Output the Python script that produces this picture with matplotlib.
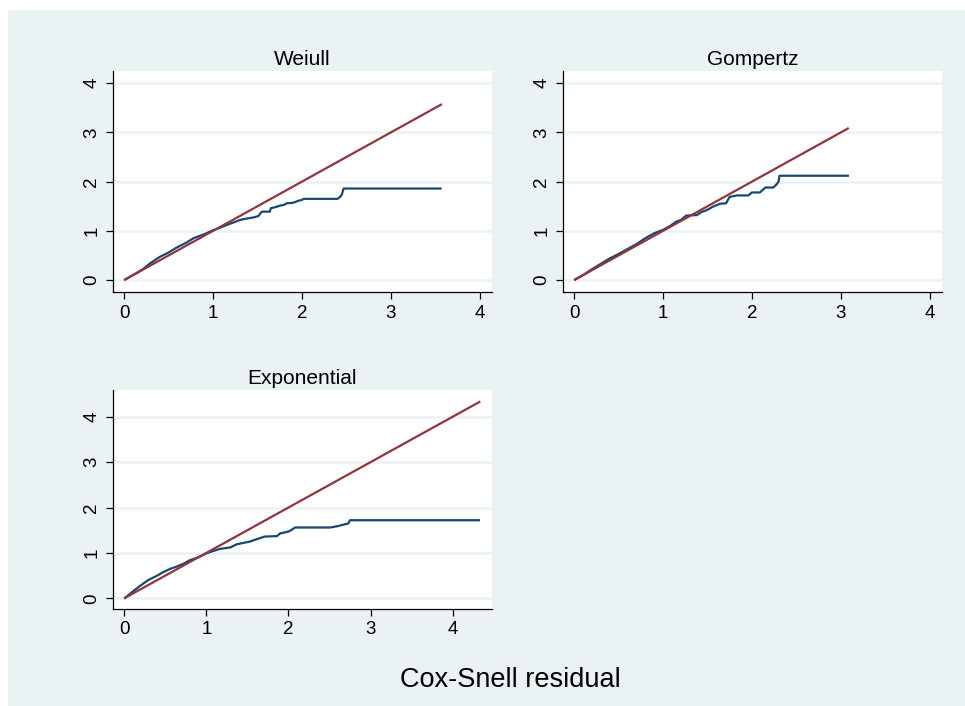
import matplotlib
matplotlib.use("Agg")
import matplotlib.pyplot as plt
from matplotlib.patches import Rectangle

plt.rcParams['font.family'] = ['Liberation Sans', 'DejaVu Sans']

# ---- data ----
titles = ["Weiull", "Gompertz", "Exponential"]
ticks = [0, 1, 2, 3, 4]

weibull_x = [0.01, 0.10, 0.21, 0.30, 0.40, 0.50, 0.59, 0.70, 0.78, 0.90, 1.00, 1.10, 1.20, 1.26,
             1.30, 1.38, 1.45, 1.51, 1.53, 1.55, 1.64, 1.65, 1.70, 1.75, 1.80, 1.83, 1.90, 1.93,
             1.96, 2.00, 2.02, 2.40, 2.43, 2.45, 2.47, 3.56]
weibull_y = [0.01, 0.10, 0.22, 0.35, 0.47, 0.56, 0.66, 0.76, 0.85, 0.93, 1.01, 1.08, 1.15, 1.19,
             1.22, 1.25, 1.27, 1.30, 1.35, 1.39, 1.39, 1.46, 1.48, 1.51, 1.53, 1.56, 1.57, 1.59,
             1.61, 1.63, 1.65, 1.65, 1.69, 1.74, 1.86, 1.86]
weibull_ref_x = [0.01, 3.565]

gompertz_x = [0.01, 0.10, 0.20, 0.30, 0.40, 0.50, 0.60, 0.70, 0.80, 0.90, 1.00, 1.08, 1.15, 1.20,
              1.26, 1.38, 1.43, 1.49, 1.56, 1.64, 1.71, 1.73, 1.75, 1.83, 1.96, 2.00, 2.09, 2.15,
              2.24, 2.28, 2.30, 2.31, 3.08]
gompertz_y = [0.01, 0.10, 0.22, 0.33, 0.44, 0.53, 0.63, 0.73, 0.85, 0.95, 1.02, 1.10, 1.19, 1.22,
              1.31, 1.32, 1.38, 1.42, 1.49, 1.55, 1.56, 1.63, 1.69, 1.72, 1.72, 1.78, 1.78, 1.88,
              1.88, 1.95, 2.00, 2.12, 2.12]
gompertz_ref_x = [0.01, 3.08]

expo_x = [0.01, 0.09, 0.19, 0.29, 0.38, 0.48, 0.56, 0.64, 0.72, 0.80, 0.90, 1.00, 1.08, 1.17,
          1.29, 1.37, 1.45, 1.53, 1.61, 1.71, 1.86, 1.90, 2.00, 2.05, 2.08, 2.51, 2.60, 2.73,
          2.75, 4.32]
expo_y = [0.01, 0.13, 0.27, 0.40, 0.48, 0.58, 0.65, 0.70, 0.76, 0.84, 0.90, 0.99, 1.04, 1.09,
          1.12, 1.19, 1.22, 1.25, 1.30, 1.36, 1.37, 1.43, 1.47, 1.52, 1.56, 1.56, 1.59, 1.65,
          1.72, 1.72]
expo_ref_x = [0.01, 4.325]

BLUE = "#1A476F"
RED = "#90353B"
BG = "#EAF2F3"

W, H = 965, 706
fig = plt.figure(figsize=(W / 100, H / 100), dpi=100)
fig.patch.set_facecolor("white")
fig.patches.append(Rectangle((8 / W, 0), 1, 1 - 10 / H, transform=fig.transFigure,
                             facecolor=BG, edgecolor="none", zorder=-10))


def make_ax(left, top, right, bottom):
    return fig.add_axes([left / W, 1 - bottom / H, (right - left) / W, (bottom - top) / H])


panels = [
    (make_ax(112.7, 71, 492, 292), weibull_x, weibull_y, weibull_ref_x, (-0.13, 4.14), (-0.244, 4.25), titles[0]),
    (make_ax(562.7, 71, 942, 292), gompertz_x, gompertz_y, gompertz_ref_x, (-0.13, 4.14), (-0.244, 4.25), titles[1]),
    (make_ax(112.7, 390, 492, 609), expo_x, expo_y, expo_ref_x, (-0.141, 4.48), (-0.236, 4.59), titles[2]),
]

for ax, xs, ys, rx, xl, yl, title in panels:
    ax.set_facecolor("white")
    for t in ticks:
        ax.axhline(t, color=BG, lw=1.8, zorder=1)
    ax.plot(xs, ys, color=BLUE, lw=1.6, zorder=3)
    ax.plot(rx, rx, color=RED, lw=1.6, zorder=4)
    ax.set_xlim(*xl)
    ax.set_ylim(*yl)
    ax.set_xticks(ticks)
    ax.set_yticks(ticks)
    ax.set_xticklabels([str(t) for t in ticks], fontsize=13.5)
    ax.set_yticklabels([str(t) for t in ticks], fontsize=13.5, rotation=90, va="center")
    ax.tick_params(axis="both", direction="out", length=5, width=0.9, color="black", pad=4)
    for s in ["top", "right"]:
        ax.spines[s].set_visible(False)
    for s in ["left", "bottom"]:
        ax.spines[s].set_linewidth(0.9)
        ax.spines[s].set_color("black")
    ax.set_title(title, fontsize=15, pad=4)

fig.text(510 / W, 1 - 680 / H, "Cox-Snell residual", ha="center", va="center", fontsize=19.5)

fig.savefig("out.png", dpi=100, facecolor=fig.get_facecolor())
